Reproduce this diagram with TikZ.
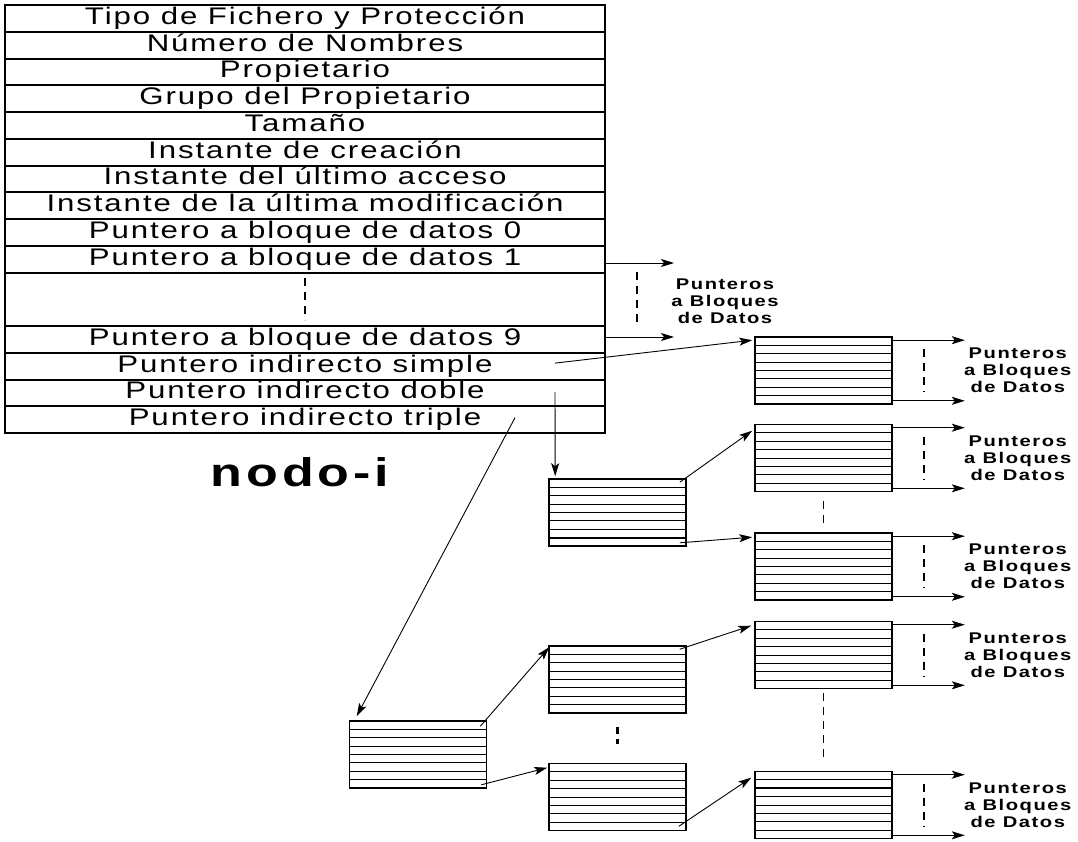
\documentclass[tikz,border=0pt]{standalone}
\usepackage{fontspec}
\setmainfont{Liberation Sans}
\newfontfamily\rowfont[FakeStretch=1.3,LetterSpace=8]{Liberation Sans}
\newfontfamily\lblfont[FakeStretch=1.3,LetterSpace=10]{Liberation Sans}
\usetikzlibrary{arrows.meta,calc}
\begin{document}
\begin{tikzpicture}[x=1pt,y=-1pt,
  row/.style={rectangle, minimum width=600pt, minimum height=26.75pt,
    inner sep=0pt, font=\rowfont\fontsize{24}{24}\selectfont, text height=17pt, text depth=5pt},
  tline/.style={line width=1.5pt},
  blk/.style={draw, line width=1.6pt, rectangle, minimum width=137pt, minimum height=67pt, inner sep=0pt,
    path picture={\foreach \k in {1,...,7}{\draw[line width=0.9pt]
      ($(path picture bounding box.north west)!\k/8!(path picture bounding box.south west)$) --
      ($(path picture bounding box.north east)!\k/8!(path picture bounding box.south east)$);}}},
  arr/.style={line width=0.9pt, -{Stealth[length=13pt,width=8pt,inset=3pt]}},
  dsh/.style={line width=1.8pt, dash pattern=on 8pt off 6pt},
  lbl/.style={align=center, inner sep=0pt, font=\lblfont\bfseries\fontsize{15.5}{17}\selectfont}
]
\path[use as bounding box] (0,0) rectangle (1078,842);
\def\h{26.75}
% i-node table
\foreach \t [count=\i from 0] in {Tipo de Fichero y Protección, Número de Nombres, Propietario,
  Grupo del Propietario, Tamaño, Instante de creación, Instante del último acceso,
  Instante de la última modificación, Puntero a bloque de datos 0, Puntero a bloque de datos 1}
  \node[row] (r\i) at (305,{5+\h*(\i+0.5)}) {\t};
\node[row, minimum height=53.5pt] (g) at (305,{5+\h*11}) {};
\foreach \t [count=\i from 12] in {Puntero a bloque de datos 9, Puntero indirecto simple,
  Puntero indirecto doble, Puntero indirecto triple}
  \node[row] (r\i) at (305,{5+\h*(\i+0.5)}) {\t};
\draw[tline] (r0.north west) rectangle (r15.south east);
\foreach \i in {1,...,10,12,13,14,15}
  \draw[tline] (5,{round(5+\h*\i)}) -- (605,{round(5+\h*\i)});
\draw[line width=2.8pt, dash pattern=on 8pt off 6pt] ($(g.center)+(0,-21)$) -- ($(g.center)+(0,21)$);
\node[font=\lblfont\bfseries\fontsize{40}{40}\selectfont, inner sep=0pt] (nodo) at (300,472) {nodo-i};

% direct pointers
\coordinate (q1) at (674,263);
\coordinate (q2) at (674,337);
\draw[arr] (q1 -| r9.east) -- (q1);
\draw[arr] (q2 -| r12.east) -- (q2);
\draw[dsh] ($(g.north east)+(32,0)$) -- ($(g.south east)+(32,0)$);
\node[lbl] (L0) at (725,301) {Punteros\\a Bloques\\de Datos};

% blocks
\node[blk] (A) at (823.5,370.5) {};
\node[blk] (B) at (823.5,458) {};
\node[blk] (C) at (823.5,566.5) {};
\node[blk] (D) at (823.5,655) {};
\node[blk] (E) at (823.5,805) {};
\node[blk] (F) at (617.5,512.5) {};
\node[blk] (G) at (418,754.5) {};
\node[blk] (H) at (617.5,679.5) {};
\node[blk] (I) at (617.5,797) {};
\draw[line width=1.8pt] ($(F.north west)!7/8!(F.south west)$) -- ($(F.north east)!7/8!(F.south east)$);
\draw[line width=1.8pt] ($(E.north west)!2/8!(E.south west)$) -- ($(E.north east)!2/8!(E.south east)$);

\foreach \b in {A,B,C,D,E}{
  \coordinate (\b1) at ($(\b.north east)+(72,4)$);
  \coordinate (\b2) at ($(\b.south east)+(72,-4)$);
  \draw[arr] (\b1 -| \b.east) -- (\b1);
  \draw[arr] (\b2 -| \b.east) -- (\b2);
  \draw[dsh] ($(\b.north east)+(31,13)$) -- ($(\b.south east)+(31,-13)$);
  \node[lbl] (\b L) at ($(\b.east)+(125,0)$) {Punteros\\a Bloques\\de Datos};
}

% indirect pointers
\draw[arr] ($(r13.center)+(250,-3)$) -- ($(A.north west)+(-2,4)$);
\draw[arr] ($(r14.center)+(250,-1)$) -- ($(F.north west)+(7,-2)$);
\draw[arr] ($(r15.center)+(210,-2)$) -- ($(G.north west)+(8,-4)$);
\draw[arr] ($(F.north east)+(-7,4)$) -- ($(B.north west)+(-2,7)$);
\draw[arr] ($(F.south east)+(-7,-4)$) -- ($(C.north west)+(-2,5)$);
\draw[arr] ($(G.north east)+(-7,6)$) -- ($(H.north west)+(1,2)$);
\draw[arr] ($(G.south east)+(-6,-4)$) -- ($(I.north west)+(-1,5)$);
\draw[arr] ($(H.north east)+(-7,4)$) -- ($(D.north west)+(-3,5)$);
\draw[arr] ($(I.south east)+(-8,-5)$) -- ($(E.north west)+(-3,7)$);

% ellipsis dashes between blocks
\draw[dsh] ($(B.south)+(0,9)$) -- ($(C.north)+(0,-9)$);
\draw[dsh] ($(D.south)+(0,4)$) -- ($(E.north)+(0,-12)$);
\draw[line width=3pt, dash pattern=on 7pt off 5pt] ($(H.south)+(0,13)$) -- ($(I.north)+(0,-19)$);
\end{tikzpicture}
\end{document}
